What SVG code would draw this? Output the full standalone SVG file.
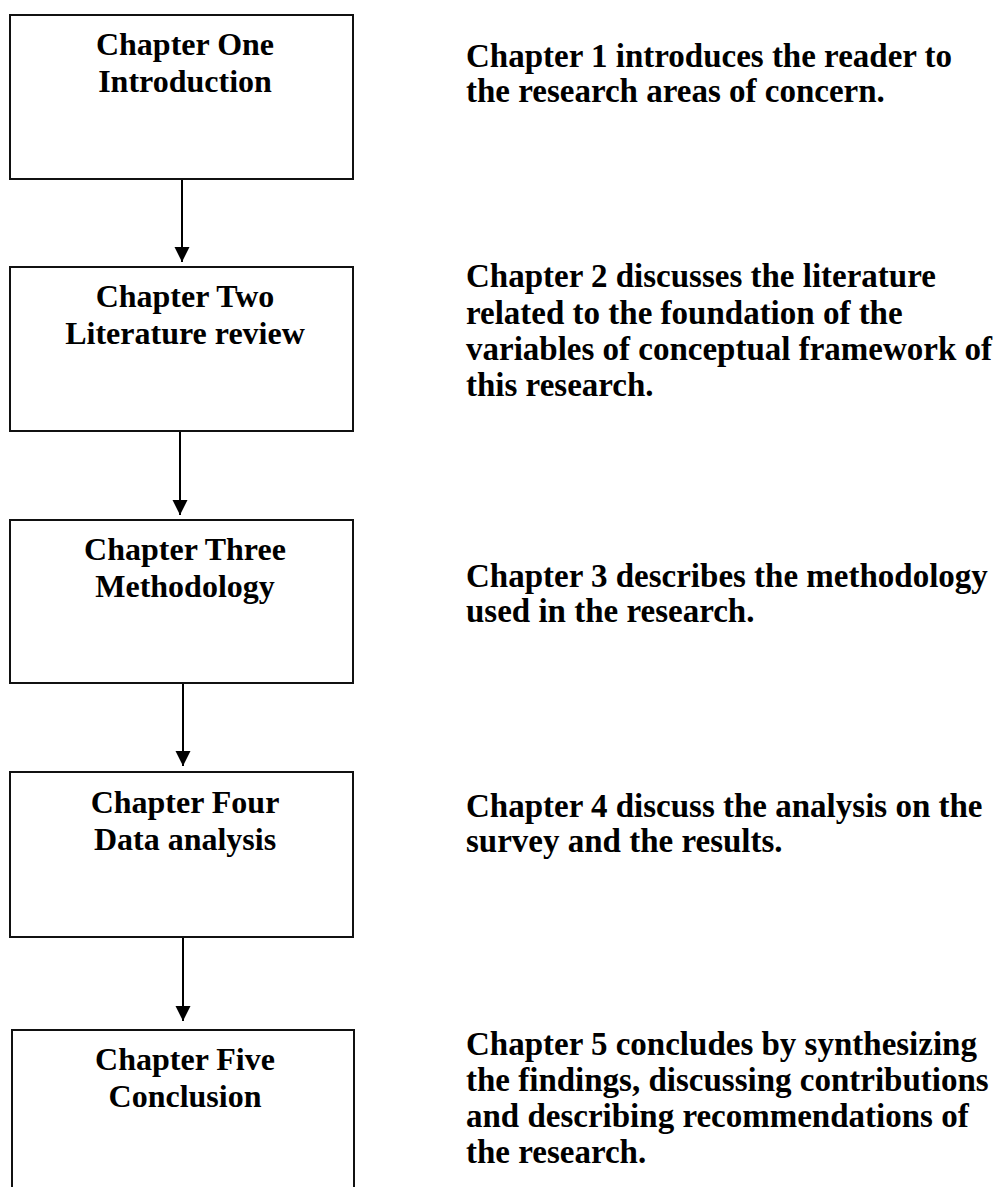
<svg xmlns="http://www.w3.org/2000/svg" width="995" height="1187" viewBox="0 0 995 1187">
<style>
.box{fill:#fff;stroke:#111;stroke-width:2}
.t{font-family:"Liberation Serif","Times New Roman",serif;font-weight:bold;font-size:32px;fill:#000}
.c{text-anchor:middle}
.d{font-family:"Liberation Serif","Times New Roman",serif;font-weight:bold;font-size:33px;fill:#000}
.conn{stroke:#000;stroke-width:2;fill:none}
</style>
<defs>
<marker id="ah" markerWidth="15" markerHeight="16" refX="15" refY="8" orient="auto" markerUnits="userSpaceOnUse" viewBox="0 0 15 16">
<path d="M0,0.5 L15,8 L0,15.5 Z" fill="#000"/>
</marker>
</defs>
<rect width="995" height="1187" fill="#fff"/>
<g id="connectors">
<line class="conn" x1="182" y1="179" x2="182" y2="262" marker-end="url(#ah)"/>
<line class="conn" x1="180" y1="431" x2="180" y2="515" marker-end="url(#ah)"/>
<line class="conn" x1="183" y1="683" x2="183" y2="766" marker-end="url(#ah)"/>
<line class="conn" x1="183" y1="937" x2="183" y2="1021" marker-end="url(#ah)"/>
</g>
<g id="node1">
<rect class="box" x="10" y="15" width="343" height="164"/>
<text class="t c" x="185" y="55">Chapter One</text>
<text class="t c" x="185" y="92">Introduction</text>
</g>
<g id="node2">
<rect class="box" x="10" y="267" width="343" height="164"/>
<text class="t c" x="185" y="307">Chapter Two</text>
<text class="t c" x="185" y="344">Literature review</text>
</g>
<g id="node3">
<rect class="box" x="10" y="520" width="343" height="163"/>
<text class="t c" x="185" y="560">Chapter Three</text>
<text class="t c" x="185" y="597">Methodology</text>
</g>
<g id="node4">
<rect class="box" x="10" y="772" width="343" height="165"/>
<text class="t c" x="185" y="813">Chapter Four</text>
<text class="t c" x="185" y="850">Data analysis</text>
</g>
<g id="node5">
<rect class="box" x="12" y="1030" width="342" height="170"/>
<text class="t c" x="185" y="1070">Chapter Five</text>
<text class="t c" x="185" y="1107">Conclusion</text>
</g>
<g id="desc1">
<text class="d" x="466" y="67">Chapter 1 introduces the reader to</text>
<text class="d" x="466" y="102">the research areas of concern.</text>
</g>
<g id="desc2">
<text class="d" x="466" y="287">Chapter 2 discusses the literature</text>
<text class="d" x="466" y="324">related to the foundation of the</text>
<text class="d" x="466" y="360">variables of conceptual framework of</text>
<text class="d" x="466" y="396">this research.</text>
</g>
<g id="desc3">
<text class="d" x="466" y="587">Chapter 3 describes the methodology</text>
<text class="d" x="466" y="622">used in the research.</text>
</g>
<g id="desc4">
<text class="d" x="466" y="817">Chapter 4 discuss the analysis on the</text>
<text class="d" x="466" y="852">survey and the results.</text>
</g>
<g id="desc5">
<text class="d" x="466" y="1055">Chapter 5 concludes by synthesizing</text>
<text class="d" x="466" y="1091">the findings, discussing contributions</text>
<text class="d" x="466" y="1127">and describing recommendations of</text>
<text class="d" x="466" y="1163">the research.</text>
</g>
</svg>
